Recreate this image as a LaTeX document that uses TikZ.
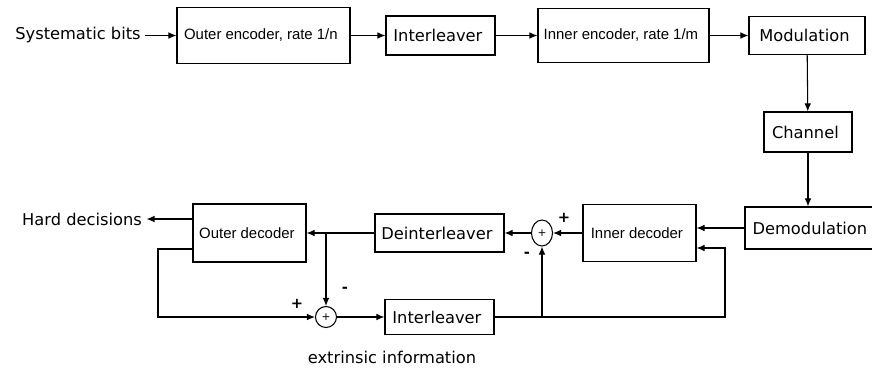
\documentclass[tikz,border=0pt]{standalone}
\usepackage{fontspec}
\setmainfont{DejaVu Sans}
\newfontfamily\narrowfont{Liberation Sans}
\usetikzlibrary{
    arrows.meta,
    shapes.geometric
}
\newcommand{\narrowlabel}[1]{%
    {\narrowfont\fontsize{11.2}{13}\selectfont #1}%
}

\begin{document}
\begin{tikzpicture}[
    x=0.75pt,
    y=-0.75pt,
    every node/.style={
        font=\fontsize{12.2}{14}\selectfont
    },
    block/.style={
        rectangle,
        draw,
        line width=0.9pt,
        inner sep=0pt,
        align=center
    },
    adder/.style={
        ellipse,
        draw,
        line width=0.8pt,
        inner sep=0pt,
        font=\fontsize{8}{8}\selectfont
    },
    arrow/.style={
        -{Latex[length=6pt,width=5pt]},
        line width=0.8pt
    },
    sign/.style={
        font=\bfseries\fontsize{11}{11}\selectfont,
        inner sep=0pt
    }
]

\useasboundingbox (0,0) rectangle (872,369);

% encoder chain

\node (bits) at (78,35.5) {Systematic bits};

\node[block, minimum width=129.75pt, minimum height=42pt] (outenc) at (263.5,35.5) {
    \narrowlabel{Outer encoder, rate 1/n}
};

\node[block, minimum width=81.75pt, minimum height=29.25pt] (ilvtop) at (440.5,35.5) {
    Interleaver
};

\node[block, minimum width=128.25pt, minimum height=40.5pt] (inenc) at (623.5,35.5) {
    \narrowlabel{Inner encoder, rate 1/m}
};

\node[block, minimum width=87pt, minimum height=28.5pt] (modul) at (807,35.5) {
    Modulation
};

\node[block, minimum width=66pt, minimum height=30pt] (channel) at (808,132) {
    Channel
};

\node[block, minimum width=101.25pt, minimum height=31.5pt] (demod) at (812.5,228) {
    Demodulation
};

% decoder chain

\node[block, minimum width=84.75pt, minimum height=42.75pt] (indec) at (639.5,233) {
    \narrowlabel{Inner decoder}
};

\node[adder, minimum width=15.75pt, minimum height=19.5pt] (sumr) at (542,233) {+};

\node[block, minimum width=96.75pt, minimum height=28.5pt] (deint) at (439.5,233) {
    Deinterleaver
};

\node[block, minimum width=84.75pt, minimum height=43.5pt] (outdec) at (249.5,233) {
    \narrowlabel{Outer decoder}
};

\node (hard) at (82,219) {Hard decisions};

\node[adder, minimum width=15.75pt, minimum height=15.75pt] (suml) at (326,317) {+};

\node[block, minimum width=81.75pt, minimum height=26.25pt] (ilvbot) at (439.5,317) {
    Interleaver
};

\node (extr) at (392,357) {extrinsic information};

% signs at the adders

\node[sign] (plusr) at (564,218) {+};
\node[sign] (minusr) at (527,255) {-};
\node[sign] (plusl) at (297,304) {+};
\node[sign] (minusl) at (345,290) {-};

% corners of the feedback loops

\coordinate (fbright) at (725,248);
\coordinate (fbleft) at (158,249);

% encoder arrows

\draw[arrow] (bits) -- (outenc);
\draw[arrow] (outenc) -- (ilvtop);
\draw[arrow] (ilvtop) -- (inenc);
\draw[arrow] (inenc) -- (modul);
\draw[arrow] (modul) -- (channel);
\draw[arrow] (channel) -- (demod.north -| channel.south);

% decoder arrows

\draw[arrow] (demod.west) -- (demod.west -| indec.east);
\draw[arrow] (indec) -- (sumr);
\draw[arrow] (sumr) -- (deint);
\draw[arrow] (deint) -- (outdec);
\draw[arrow] (outdec.west |- hard.east) -- (hard.east);

% extrinsic information loop

\draw[arrow] (suml.north |- outdec.east) -- (suml.north);
\draw[arrow] (fbleft -| outdec.west) -- (fbleft) |- (suml.west);
\draw[arrow] (suml) -- (ilvbot);
\draw[arrow] (ilvbot.east) -| (fbright) -- (fbright -| indec.east);
\draw[arrow] (sumr.south |- ilvbot.east) -- (sumr.south);

\end{tikzpicture}
\end{document}
